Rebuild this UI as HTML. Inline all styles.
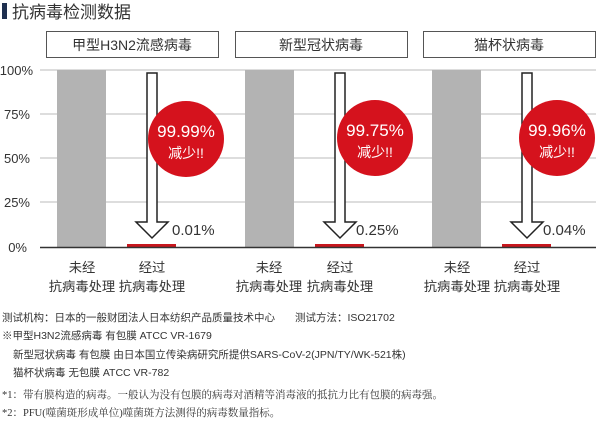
<!DOCTYPE html>
<html><head><meta charset="utf-8"><style>
body{margin:0;background:#fff;width:600px;height:431px;overflow:hidden;font-family:"Liberation Sans","Noto Sans CJK SC",sans-serif;}
</style></head><body>
<svg width="600" height="431" xmlns="http://www.w3.org/2000/svg" font-family="'Liberation Sans','Noto Sans CJK SC',sans-serif">
<rect x="2" y="3" width="5" height="16" fill="#1f3050"/>
<text x="12" y="18" font-size="17" fill="#333">抗病毒检测数据</text>
<g fill="#fff" stroke="#555" stroke-width="1">
<rect x="46.5" y="31.5" width="172" height="26"/>
<rect x="235.5" y="31.5" width="172" height="26"/>
<rect x="423.5" y="31.5" width="172" height="26"/>
</g>
<g font-size="14" fill="#333" text-anchor="middle">
<text x="132" y="50">甲型H3N2流感病毒</text>
<text x="321" y="50">新型冠状病毒</text>
<text x="509" y="50">猫杯状病毒</text>
</g>
<g stroke="#bbb" stroke-width="1">
<line x1="40" y1="70" x2="596" y2="70"/>
<line x1="40" y1="114" x2="596" y2="114"/>
<line x1="40" y1="158" x2="596" y2="158"/>
<line x1="40" y1="202" x2="596" y2="202"/>
</g>
<g font-size="13" fill="#333" text-anchor="end">
<text x="33" y="75">100%</text><text x="30" y="119">75%</text><text x="30" y="163">50%</text><text x="30" y="207">25%</text><text x="27" y="252">0%</text>
</g>
<g fill="#b3b3b3">
<rect x="57" y="70" width="49" height="177"/>
<rect x="245" y="70" width="49" height="177"/>
<rect x="432" y="70" width="49" height="177"/>
</g>
<g fill="#c8161d">
<rect x="127" y="244" width="49" height="3"/>
<rect x="315" y="244" width="49" height="3"/>
<rect x="502" y="244" width="49" height="3"/>
</g>
<line x1="40" y1="247.5" x2="596" y2="247.5" stroke="#333" stroke-width="1.5"/>
<g fill="#fff" stroke="#222" stroke-width="1.5">
<path d="M147,73 h10 v149 h11 l-16,16 l-16,-16 h11 z"/>
<path d="M335,73 h10 v149 h11 l-16,16 l-16,-16 h11 z"/>
<path d="M522,73 h10 v149 h11 l-16,16 l-16,-16 h11 z"/>
</g>
<g fill="#d5121d">
<circle cx="186" cy="139" r="38"/>
<circle cx="375" cy="138" r="38"/>
<circle cx="557" cy="138" r="38"/>
</g>
<g fill="#fff" text-anchor="middle">
<text x="186" y="137" font-size="17">99.99%</text><text x="186" y="158" font-size="14">减少!!</text>
<text x="375" y="136" font-size="17">99.75%</text><text x="375" y="157" font-size="14">减少!!</text>
<text x="557" y="136" font-size="17">99.96%</text><text x="557" y="157" font-size="14">减少!!</text>
</g>
<g font-size="15" fill="#333">
<text x="172" y="235">0.01%</text><text x="356" y="235">0.25%</text><text x="543" y="235">0.04%</text>
</g>
<g font-size="13.3" fill="#333" text-anchor="middle">
<text x="82" y="272">未经</text><text x="82" y="291">抗病毒处理</text>
<text x="152" y="272">经过</text><text x="152" y="291">抗病毒处理</text>
<text x="269" y="272">未经</text><text x="269" y="291">抗病毒处理</text>
<text x="340" y="272">经过</text><text x="340" y="291">抗病毒处理</text>
<text x="457" y="272">未经</text><text x="457" y="291">抗病毒处理</text>
<text x="527" y="272">经过</text><text x="527" y="291">抗病毒处理</text>
</g>
<g font-size="10.5" fill="#333">
<text x="2" y="321">测试机构：日本的一般财团法人日本纺织产品质量技术中心</text>
<text x="295" y="321">测试方法：ISO21702</text>
<text x="2" y="339">※甲型H3N2流感病毒 有包膜 ATCC VR-1679</text>
<text x="13" y="358">新型冠状病毒 有包膜 由日本国立传染病研究所提供SARS-CoV-2(JPN/TY/WK-521株)</text>
<text x="13" y="376">猫杯状病毒 无包膜 ATCC VR-782</text>
<text x="2" y="398" font-family="'Liberation Serif','Noto Serif CJK SC',serif">*1：带有膜构造的病毒。一般认为没有包膜的病毒对酒精等消毒液的抵抗力比有包膜的病毒强。</text>
<text x="2" y="416" font-family="'Liberation Serif','Noto Serif CJK SC',serif">*2：PFU(噬菌斑形成单位)噬菌斑方法测得的病毒数量指标。</text>
</g>
</svg>
</body></html>
